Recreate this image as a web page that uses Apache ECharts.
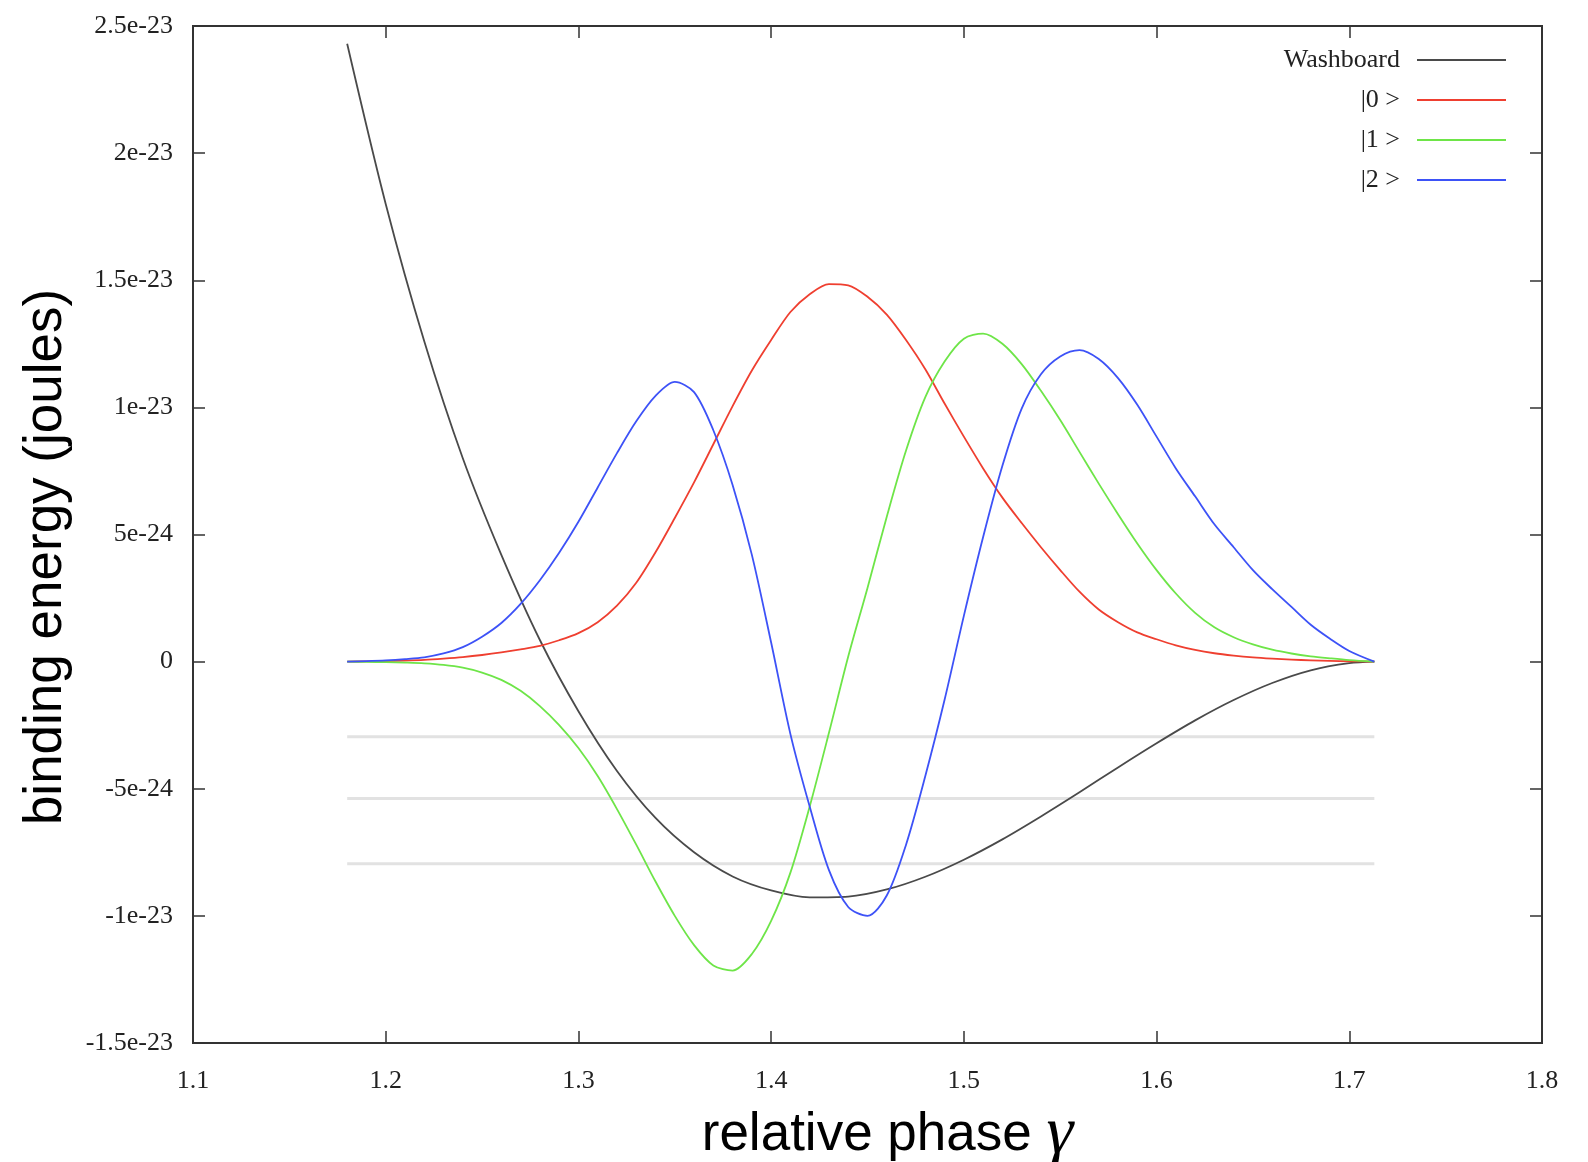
<!DOCTYPE html>
<html>
<head>
<meta charset="utf-8">
<script src="https://cdn.jsdelivr.net/npm/echarts@6/dist/echarts.min.js"></script>
<style>
html,body{margin:0;padding:0;background:#fff;overflow:hidden;}
#chart{width:1588px;height:1162px;}
</style>
</head>
<body>
<div id="chart"></div>
<script>
// All energies below are in units of 1e-24 joules.
const xTickLabels = ['1.1','1.2','1.3','1.4','1.5','1.6','1.7','1.8'];
const yTickLabels = ['-1.5e-23','-1e-23','-5e-24','0','5e-24','1e-23','1.5e-23','2e-23','2.5e-23'];

const washboardX = [1.18,1.20,1.22,1.24,1.26,1.28,1.30,1.32,1.34,1.36,1.38,1.40,1.42,1.44,1.46,1.48,1.50,1.52,1.54,1.56,1.58,1.60,1.62,1.64,1.66,1.68,1.70,1.713];
const washboardY = [24.3,18.0,12.6,8.0,4.2,0.85,-1.95,-4.3,-6.15,-7.5,-8.45,-9.0,-9.27,-9.24,-8.96,-8.46,-7.79,-6.99,-6.09,-5.14,-4.16,-3.21,-2.31,-1.51,-0.84,-0.34,-0.06,0];

const psiX = [1.18,1.19,1.20,1.21,1.22,1.23,1.24,1.25,1.26,1.27,1.28,1.29,1.30,1.31,1.32,1.33,1.34,1.35,1.36,1.37,1.38,1.39,1.40,1.41,1.42,1.43,1.44,1.45,1.46,1.47,1.48,1.49,1.50,1.51,1.52,1.53,1.54,1.55,1.56,1.57,1.58,1.59,1.60,1.61,1.62,1.63,1.64,1.65,1.66,1.67,1.68,1.69,1.70,1.713];
const psi0 = [0,0.01,0.02,0.04,0.07,0.12,0.18,0.26,0.36,0.48,0.62,0.84,1.12,1.55,2.2,3.1,4.3,5.65,7.05,8.55,10.05,11.45,12.65,13.75,14.45,14.85,14.8,14.35,13.65,12.65,11.5,10.15,8.85,7.6,6.45,5.45,4.5,3.6,2.75,2.05,1.55,1.15,0.88,0.64,0.46,0.33,0.24,0.17,0.12,0.08,0.05,0.03,0.015,0];
const psi1 = [0,-0.01,-0.02,-0.04,-0.07,-0.13,-0.24,-0.43,-0.72,-1.15,-1.75,-2.5,-3.4,-4.5,-5.8,-7.2,-8.65,-10.0,-11.15,-11.95,-12.15,-11.5,-10.2,-8.3,-5.7,-2.8,0.2,2.9,5.7,8.3,10.4,11.8,12.7,12.9,12.5,11.7,10.65,9.5,8.25,7.0,5.8,4.65,3.6,2.68,1.92,1.35,0.96,0.68,0.47,0.32,0.21,0.13,0.06,0];
const psi2 = [0,0.02,0.05,0.1,0.17,0.32,0.57,0.98,1.52,2.27,3.2,4.28,5.5,6.85,8.2,9.45,10.45,11.0,10.6,9.1,6.95,4.2,0.75,-2.85,-5.7,-8.2,-9.65,-10.0,-9.2,-7.2,-4.5,-1.5,1.8,4.9,7.7,9.95,11.3,12.0,12.25,11.9,11.15,10.1,8.85,7.6,6.5,5.4,4.5,3.6,2.85,2.15,1.45,0.9,0.42,0];

const levelEnergies = [-7.95,-5.38,-2.95];
const levelRange = [1.18,1.713];

const seriesNames = ['Washboard','|0 >','|1 >','|2 >'];
const seriesColors = ['#4a4a4a','#ef3f30','#6ee548','#3d52f7'];

const xMin = 1.1, xMax = 1.8, xStep = 0.1;
const yMin = -15, yMax = 25, yStep = 5;

const pairs = (xa, ya) => xa.map((x, i) => [x, ya[i]]);

const serif = 'Liberation Serif';
const sans = 'Liberation Sans';

const levelSeries = levelEnergies.map((e, i) => ({
  name: 'level' + i,
  type: 'line',
  data: levelRange.map(x => [x, e]),
  symbol: 'none',
  silent: true,
  lineStyle: {color: '#e2e2e2', width: 3},
  z: 1
}));

const curveData = [pairs(washboardX, washboardY), pairs(psiX, psi0), pairs(psiX, psi1), pairs(psiX, psi2)];
const curveSeries = curveData.map((d, i) => ({
  name: seriesNames[i],
  type: 'line',
  data: d,
  symbol: 'none',
  smooth: 0.3,
  lineStyle: {color: seriesColors[i], width: 1.8, join: 'round'},
  itemStyle: {color: seriesColors[i]},
  z: 3
}));

const chart = echarts.init(document.getElementById('chart'), null, {renderer: 'canvas'});

const xLabelFmt = v => xTickLabels[Math.round((v - xMin) / xStep)] || '';
const yLabelFmt = v => yTickLabels[Math.round((v - yMin) / yStep)] || '';

const tickStyle = {show: true, inside: true, length: 12, lineStyle: {color: '#333', width: 1.5}};

chart.setOption({
  animation: false,
  backgroundColor: '#fff',
  grid: {left: 193, right: 46, top: 26, bottom: 119, show: true, borderColor: '#333', borderWidth: 2,
    backgroundColor: 'transparent', containLabel: false, outerBoundsMode: 'none'},
  legend: {
    data: seriesNames,
    orient: 'vertical',
    align: 'right',
    right: 77,
    top: 40,
    itemWidth: 89,
    itemHeight: 2,
    itemGap: 10,
    icon: 'rect',
    selectedMode: false,
    textStyle: {fontFamily: serif, fontSize: 26, color: '#222', lineHeight: 30, padding: [0, 12, 0, 0]}
  },
  xAxis: [{
    type: 'value', min: xMin, max: xMax, interval: xStep,
    position: 'bottom',
    axisLine: {show: false, onZero: false},
    axisTick: tickStyle,
    splitLine: {show: false},
    axisLabel: {formatter: xLabelFmt, fontFamily: serif, fontSize: 26, color: '#222', margin: 25},
    name: 'relative phase {g|γ}',
    nameLocation: 'middle',
    nameGap: 62,
    nameTextStyle: {fontFamily: sans, fontSize: 53, color: '#000', lineHeight: 60, padding: [0, 0, 0, 40],
      rich: {g: {fontFamily: serif, fontStyle: 'italic', fontSize: 68, color: '#000', lineHeight: 60}}}
  }, {
    type: 'value', min: xMin, max: xMax, interval: xStep,
    position: 'top',
    axisLine: {show: false, onZero: false},
    axisTick: tickStyle,
    splitLine: {show: false},
    axisLabel: {show: false}
  }],
  yAxis: [{
    type: 'value', min: yMin, max: yMax, interval: yStep,
    position: 'left',
    axisLine: {show: false, onZero: false},
    axisTick: tickStyle,
    splitLine: {show: false},
    axisLabel: {formatter: yLabelFmt, fontFamily: serif, fontSize: 26, color: '#222', margin: 20},
    name: 'binding energy (joules)',
    nameLocation: 'middle',
    nameGap: 120,
    nameTextStyle: {fontFamily: sans, fontSize: 53, color: '#000', padding: [0, 45, 0, 0]}
  }, {
    type: 'value', min: yMin, max: yMax, interval: yStep,
    position: 'right',
    axisLine: {show: false, onZero: false},
    axisTick: tickStyle,
    splitLine: {show: false},
    axisLabel: {show: false}
  }],
  series: levelSeries.concat(curveSeries)
});
</script>
</body>
</html>
